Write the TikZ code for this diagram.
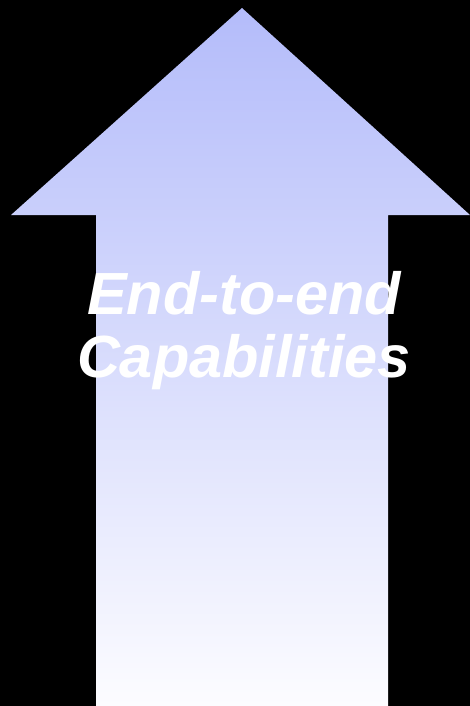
\documentclass[tikz,border=0pt]{standalone}
\usepackage{fontspec}
\setmainfont{Liberation Sans}
\definecolor{arrowtop}{RGB}{180,188,250}
\definecolor{arrowbot}{RGB}{252,252,255}
\begin{document}
\begin{tikzpicture}[x=1pt,y=-1pt,
  labeltext/.style={text=white,font=\fontsize{59.5}{63}\selectfont\bfseries\itshape,align=center,inner sep=0pt}]
\fill[black] (0,0) rectangle (470,706);
\useasboundingbox (0,0) rectangle (470,706);
\shade[top color=arrowtop,bottom color=arrowbot]
  (242,8) -- (470,215) -- (388,215) -- (388,706) -- (96,706) -- (96,215) -- (11,215) -- cycle;
\node[labeltext] (lbl) at (244,331) {End-to-end\\Capabilities};
\end{tikzpicture}
\end{document}
